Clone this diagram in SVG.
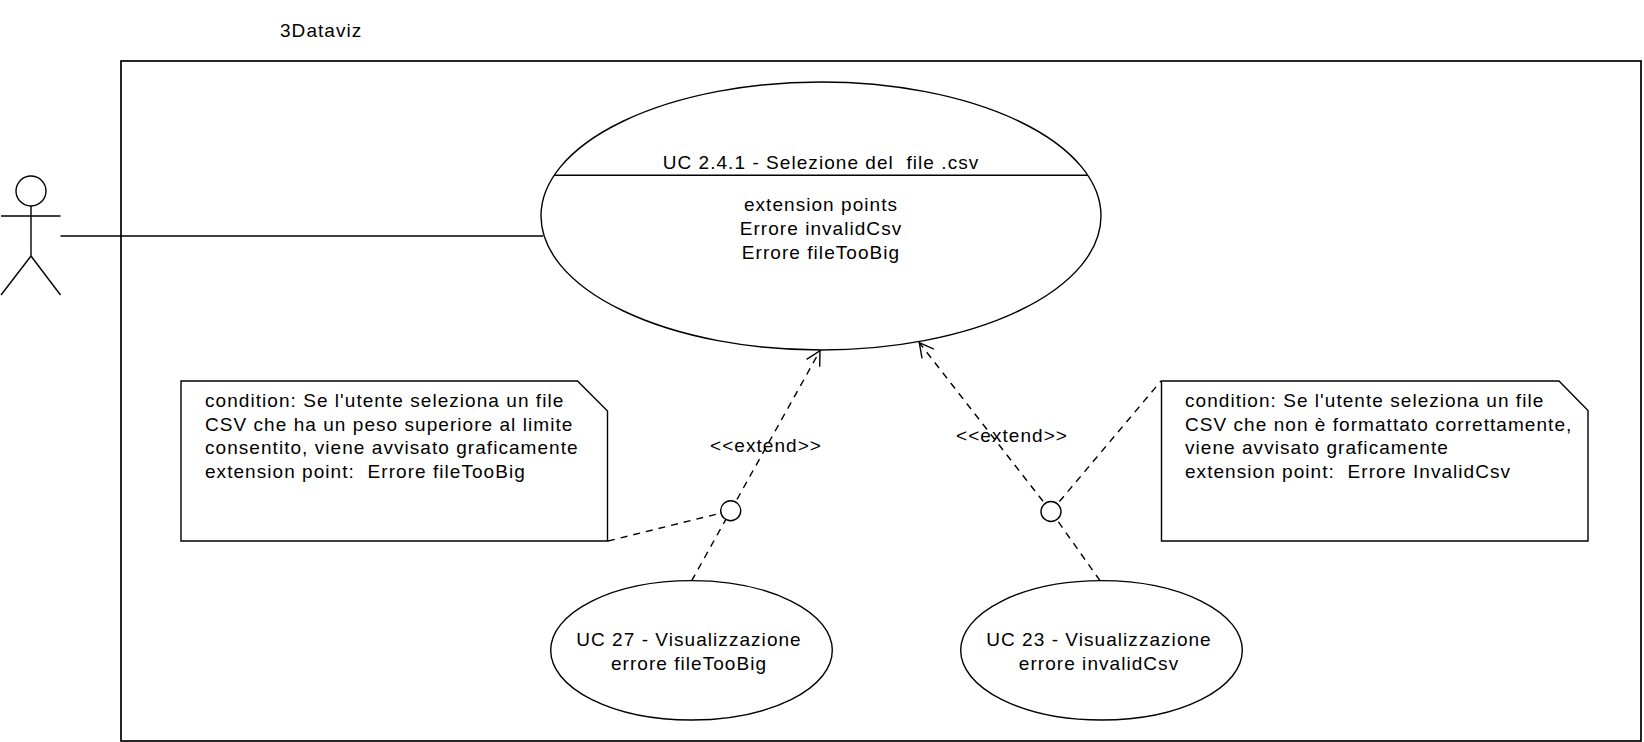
<svg xmlns="http://www.w3.org/2000/svg" width="1644" height="742" viewBox="0 0 1644 742">
<style>
text{font-family:"Liberation Sans",Arial,sans-serif;font-size:19px;letter-spacing:1.05px;fill:#000;white-space:pre}
.mid{text-anchor:middle}
.shape{fill:#fff;stroke:#000;stroke-width:1.4}
.line{fill:none;stroke:#000;stroke-width:1.4}
.dash{fill:none;stroke:#000;stroke-width:1.4;stroke-dasharray:7 6}
.anchor{fill:#fff;stroke:#000;stroke-width:1.4}
</style>
<defs>
<marker id="open" markerUnits="userSpaceOnUse" orient="auto" refX="0" refY="0" markerWidth="20" markerHeight="20" viewBox="-18 -10 20 20" overflow="visible">
<path d="M-14.1,-7.5 L0,0 L-14.1,7.5" fill="none" stroke="#000" stroke-width="1.4"/>
</marker>
</defs>
<rect width="1644" height="742" fill="#fff"/>
<g id="system">
<text x="280" y="37">3Dataviz</text>
<rect x="121" y="61" width="1520" height="680" fill="none" stroke="#000" stroke-width="1.7"/>
</g>
<g id="actor" class="line">
<circle cx="31" cy="191" r="15" fill="#fff"/>
<line x1="1" y1="216" x2="60.5" y2="216"/>
<line x1="31" y1="206" x2="31" y2="256"/>
<line x1="31" y1="256" x2="1" y2="295"/>
<line x1="31" y1="256" x2="60.5" y2="295"/>
</g>
<g id="connectors">
<line id="assoc" class="line" x1="60.5" y1="236" x2="543" y2="236"/>
<line class="dash" x1="691.7" y1="580.7" x2="730.7" y2="510.7"/>
<line class="dash" x1="730.7" y1="510.7" x2="820" y2="350.7" marker-end="url(#open)"/>
<line class="dash" x1="1100" y1="580.7" x2="1051" y2="511.5"/>
<line class="dash" x1="1051" y1="511.5" x2="919.3" y2="342.7" marker-end="url(#open)"/>
<line class="dash" x1="608" y1="541" x2="730.7" y2="510.7"/>
<line class="dash" x1="1051" y1="511.5" x2="1161" y2="381"/>
<circle class="anchor" cx="730.7" cy="510.7" r="10"/>
<circle class="anchor" cx="1051" cy="511.5" r="10"/>
<text x="710" y="452">&lt;&lt;extend&gt;&gt;</text>
<text x="956" y="442">&lt;&lt;extend&gt;&gt;</text>
</g>
<g id="uc_main">
<ellipse class="shape" cx="821" cy="216" rx="280" ry="134"/>
<line class="line" x1="554.2" y1="175.3" x2="1087.8" y2="175.3"/>
<text class="mid" x="821" y="169" xml:space="preserve">UC 2.4.1 - Selezione del  file .csv</text>
<text class="mid" x="821" y="211">extension points</text>
<text class="mid" x="821" y="234.5">Errore invalidCsv</text>
<text class="mid" x="821" y="258.5">Errore fileTooBig</text>
</g>
<g id="uc27">
<ellipse class="shape" cx="691.5" cy="650.3" rx="140.8" ry="69.7"/>
<text class="mid" x="689" y="646">UC 27 - Visualizzazione</text>
<text class="mid" x="689" y="669.5">errore fileTooBig</text>
</g>
<g id="uc23">
<ellipse class="shape" cx="1101.5" cy="650.3" rx="140.8" ry="69.7"/>
<text class="mid" x="1099" y="646">UC 23 - Visualizzazione</text>
<text class="mid" x="1099" y="669.5">errore invalidCsv</text>
</g>
<g id="note_left">
<path class="shape" d="M181,381 L577.5,381 L607.5,411 L607.5,541 L181,541 Z"/>
<text x="205" y="407">condition: Se l'utente seleziona un file</text>
<text x="205" y="430.5">CSV che ha un peso superiore al limite</text>
<text x="205" y="454">consentito, viene avvisato graficamente</text>
<text x="205" y="477.5" xml:space="preserve">extension point:  Errore fileTooBig</text>
</g>
<g id="note_right">
<path class="shape" d="M1161.5,381 L1559,381 L1588,410.5 L1588,541 L1161.5,541 Z"/>
<text x="1185" y="407">condition: Se l'utente seleziona un file</text>
<text x="1185" y="430.5">CSV che non è formattato correttamente,</text>
<text x="1185" y="454">viene avvisato graficamente</text>
<text x="1185" y="477.5" xml:space="preserve">extension point:  Errore InvalidCsv</text>
</g>
</svg>
